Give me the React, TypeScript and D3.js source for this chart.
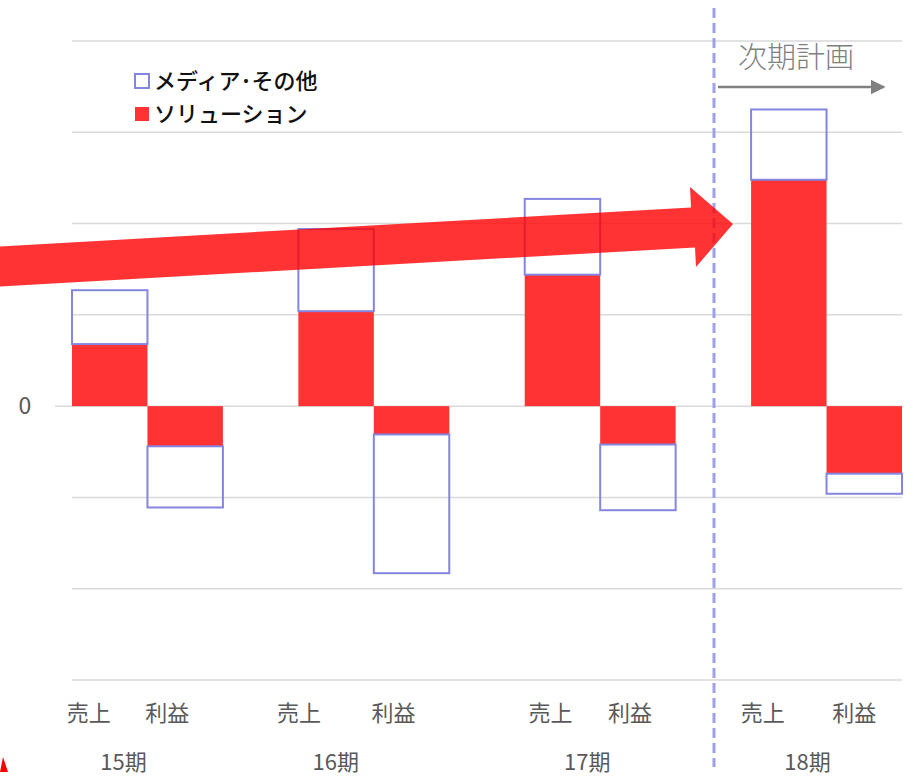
import React from 'react';
import * as d3 from 'd3';

// values (one gridline = 100)
const periods = ['15期', '16期', '17期', '18期'];
const metrics = ['売上', '利益'];
const seriesNames = ['ソリューション', 'メディア･その他'];
const solutionSales = [68, 104, 144, 248];
const mediaSales = [59, 90, 83, 77];
const solutionProfit = [-44, -31, -42, -74];
const mediaProfit = [-67, -152, -72, -22];
const yTicks = [-300, -200, -100, 0, 100, 200, 300, 400];
const planLabel = '次期計画';

// text nudges (labels in the original were placed by hand)
const metricLabelNudge = [[-21, -18], [-37, -18], [-12, -8], [-26, -10]];
const periodLabelNudge = [-24, -38, -13, -19];

const W = 914;
const H = 777;
const RED = '#ff3333';
const BLUE = '#8585e0';
const GRID = '#d9d9d9';
const FONT = '"Noto Sans CJK JP", "Noto Sans", sans-serif';

interface Row {
  period: string;
  metric: string;
  solution: number;
  media: number;
}

const rows: Row[] = [];
periods.forEach((p, i) => {
  rows.push({ period: p, metric: '売上', solution: solutionSales[i], media: mediaSales[i] });
  rows.push({ period: p, metric: '利益', solution: solutionProfit[i], media: mediaProfit[i] });
});

export default function App() {
  const x0 = d3.scaleBand<string>().domain(periods).range([72, 902]).paddingInner(1 / 3).paddingOuter(0);
  const x1 = d3.scaleBand<string>().domain(metrics).range([0, x0.bandwidth()]).padding(0);
  const y = d3.scaleLinear().domain([-300, 400]).range([680, 41]);

  const stack = d3.stack<Row>().keys(['solution', 'media']).offset(d3.stackOffsetDiverging);
  const layers = stack(rows);
  const xOf = (r: Row) => x0(r.period)! + x1(r.metric)!;

  // big red trend arrow (annotation)
  const arrow = [
    [-10, 247], [691, 207.5], [690, 187], [733, 224], [696, 267], [695, 247.5], [-10, 287],
  ];
  const arrowPath = d3.line()(arrow as [number, number][]) + 'Z';
  const dividerX = 714;

  return (
    <svg width={W} height={H} style={{ position: 'absolute', left: 0, top: 0, background: '#fff' }}>
      <defs>
        <marker id="gray-head" viewBox="0 0 10 10" refX="9" refY="5" markerWidth="6" markerHeight="6" markerUnits="strokeWidth" orient="auto">
          <path d="M0,0 L10,5 L0,10 Z" fill="#808080" />
        </marker>
      </defs>

      {/* gridlines */}
      {yTicks.map((t) => (
        <line key={t} x1={t === 0 ? 55 : 72} x2={902} y1={y(t)} y2={y(t)} stroke={GRID} strokeWidth={1.5} />
      ))}
      <text x={25} y={y(0)} dy="0.35em" textAnchor="middle" fontFamily={FONT} fontSize={23} fill="#595959">0</text>

      {/* solution bars (filled) */}
      {layers[0].map((d, i) => (
        <rect key={'s' + i} x={xOf(d.data)} width={x1.bandwidth()}
          y={y(Math.max(d[0], d[1]))} height={Math.abs(y(d[0]) - y(d[1]))} fill={RED} />
      ))}
      {/* media bars (outlined) */}
      {layers[1].map((d, i) => (
        <rect key={'m' + i} x={xOf(d.data)} width={x1.bandwidth()}
          y={y(Math.max(d[0], d[1]))} height={Math.abs(y(d[0]) - y(d[1]))}
          fill="none" stroke={BLUE} strokeWidth={2} />
      ))}

      {/* metric labels */}
      {rows.map((r, i) => (
        <text key={'l' + i} x={xOf(r) + x1.bandwidth() / 2 + metricLabelNudge[Math.floor(i / 2)][i % 2]} y={721}
          textAnchor="middle" fontFamily={FONT} fontSize={22} fill="#595959">{r.metric}</text>
      ))}
      {periods.map((p, i) => (
        <text key={p} x={x0(p)! + x0.bandwidth() / 2 + periodLabelNudge[i]} y={770}
          textAnchor="middle" fontFamily={FONT} fontSize={22} fill="#595959">{p}</text>
      ))}

      {/* divider + plan annotation */}
      <line x1={dividerX} x2={dividerX} y1={8} y2={767} stroke="#a0a0ea" strokeWidth={3} strokeDasharray="10,5" />
      <text x={738} y={68} fontFamily={FONT} fontSize={29} fill="#808080" fontWeight={300}>{planLabel}</text>
      <line x1={718} x2={884} y1={87} y2={87} stroke="#808080" strokeWidth={2.5} markerEnd="url(#gray-head)" />

      {/* legend */}
      <rect x={135} y={74} width={14} height={14} fill="#fff" stroke={BLUE} strokeWidth={2} />
      <text x={154} y={81} dy="0.35em" fontFamily={FONT} fontSize={22} fontWeight={500} fill="#111">{seriesNames[1]}</text>
      <rect x={135} y={107} width={14} height={14} fill={RED} />
      <text x={154} y={114} dy="0.35em" fontFamily={FONT} fontSize={22} fontWeight={500} fill="#111">{seriesNames[0]}</text>

      {/* trend arrow on top */}
      <path d={arrowPath} fill="#ff0000" fillOpacity={0.8} />
      {/* stray red tip in the corner */}
      <path d="M0,772 L3,757 L8,772 Z" fill="#ff0000" />
    </svg>
  );
}
